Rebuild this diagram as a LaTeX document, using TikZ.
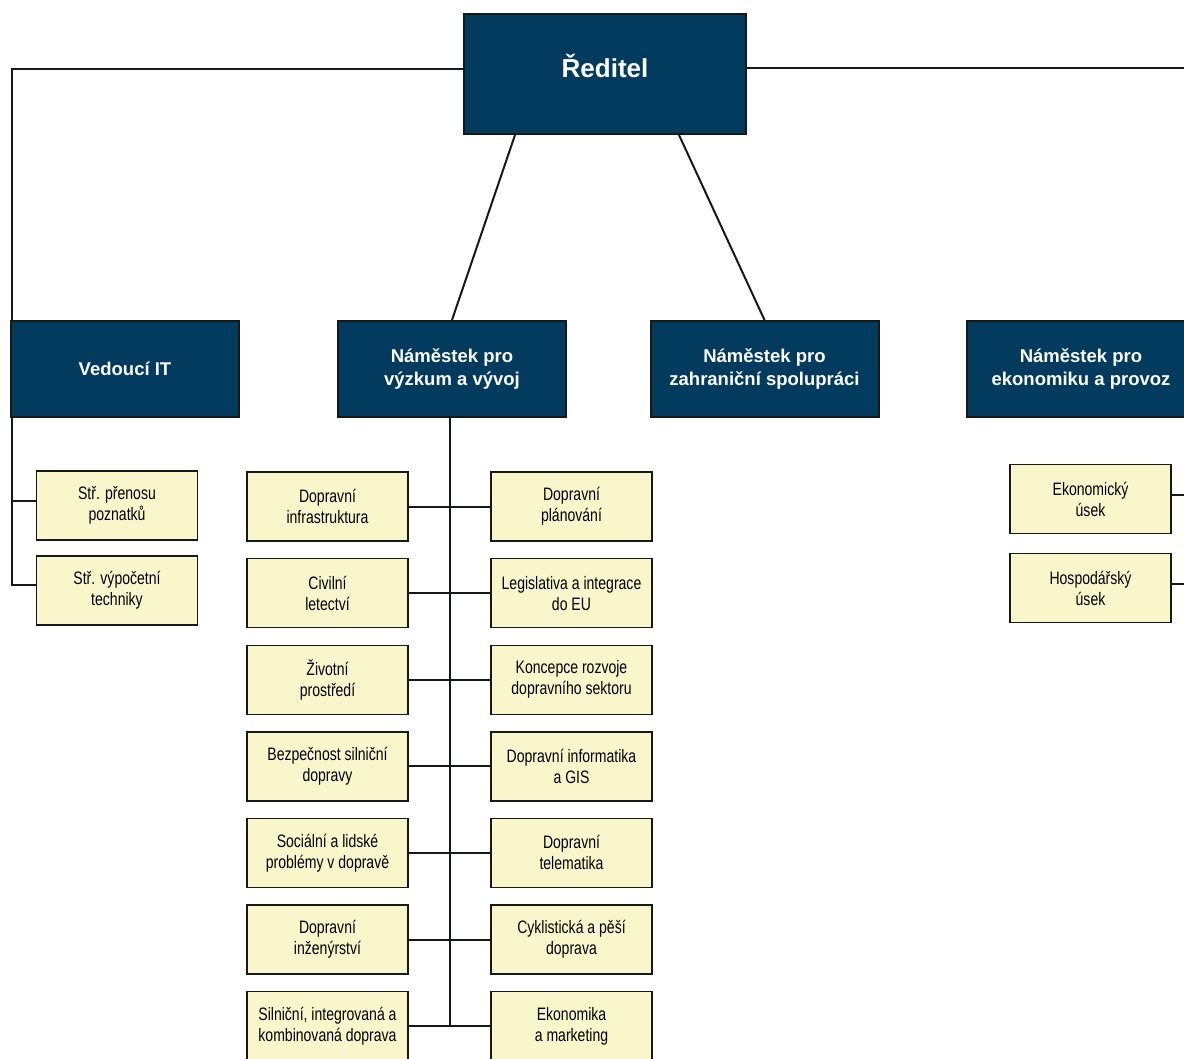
\documentclass[tikz,border=0pt]{standalone}
\usepackage{fontspec}
\setmainfont{Liberation Sans}
\newfontfamily\narrowsans[FakeStretch=0.78]{Liberation Sans}
\usetikzlibrary{positioning}
\definecolor{headblue}{RGB}{2,59,94}
\definecolor{unitfill}{RGB}{250,246,204}
\definecolor{edge}{RGB}{22,26,22}

\begin{document}
\begin{tikzpicture}[x=1pt, y=-1pt, node distance=16.2pt and 81.6pt,
    head/.style={draw=edge, line width=2pt, fill=headblue, text=white,
        font=\fontsize{18.5}{23}\selectfont\bfseries, align=center,
        minimum width=228pt, minimum height=96pt, inner sep=0pt},
    unit/.style={draw=edge, line width=1.4pt, fill=unitfill,
        font=\narrowsans\fontsize{18}{21}\selectfont, align=center,
        minimum width=161pt, minimum height=69pt, inner sep=0pt},
    link/.style={draw=edge, line width=2pt}]
    \useasboundingbox (0,0) rectangle (1184,1059);
    \clip (0,0) rectangle (1184,1059);
    \fill[white] (0,0) rectangle (1184,1059);

    \node[head, minimum width=282pt, minimum height=120pt, text height=18pt, text depth=10pt,
        font=\fontsize{26}{30}\selectfont\bfseries] (reditel) at (605,74) {Ředitel};

    \node[head] (vedouci) at (125,369) {Vedoucí IT};
    \node[head] (vyzkum) at (452,369) {Náměstek pro\\výzkum a vývoj};
    \node[head] (zahranici) at (764.5,369) {Náměstek pro\\zahraniční spolupráci};
    \node[head] (ekonomika) at (1081,369) {Náměstek pro\\ekonomiku a provoz};

    % IT
    \node[unit] (prenos) at (117,505.5) {Stř. přenosu\\poznatků};
    \node[unit, below=14.6pt of prenos] (vypocet) {Stř. výpočetní\\techniky};

    % vyzkum a vyvoj
    \node[unit] (infra) at (327.5,506.5) {Dopravní\\infrastruktura};
    \node[unit, right=of infra] (planovani) {Dopravní\\plánování};
    \node[unit, below=of infra] (letectvi) {Civilní\\letectví};
    \node[unit, right=of letectvi] (legislativa) {Legislativa a integrace\\do EU};
    \node[unit, below=of letectvi] (prostredi) {Životní\\prostředí};
    \node[unit, right=of prostredi] (koncepce) {Koncepce rozvoje\\dopravního sektoru};
    \node[unit, below=of prostredi] (bezpecnost) {Bezpečnost silniční\\dopravy};
    \node[unit, right=of bezpecnost] (informatika) {Dopravní informatika\\a GIS};
    \node[unit, below=of bezpecnost] (socialni) {Sociální a lidské\\problémy v dopravě};
    \node[unit, right=of socialni] (telematika) {Dopravní\\telematika};
    \node[unit, below=of socialni] (inzenyrstvi) {Dopravní\\inženýrství};
    \node[unit, right=of inzenyrstvi] (cyklo) {Cyklistická a pěší\\doprava};
    \node[unit, below=of inzenyrstvi] (kombinovana) {Silniční, integrovaná a\\kombinovaná doprava};
    \node[unit, right=of kombinovana] (marketing) {Ekonomika\\a marketing};

    % ekonomika a provoz
    \node[unit] (ekousek) at (1090.5,499) {Ekonomický\\úsek};
    \node[unit, below=18.6pt of ekousek] (hospusek) {Hospodářský\\úsek};

    \draw[link] ([yshift=5pt]reditel.west) -| ([xshift=1.5pt]vedouci.north west);
    \draw[link] ([yshift=6pt]reditel.east) -| (ekonomika.north east);
    \draw[link] ([xshift=-90pt]reditel.south) -- (vyzkum.north);
    \draw[link] ([xshift=74pt]reditel.south) -- (zahranici.north);

    \draw[link] ([xshift=1.5pt]vedouci.south west) |- ([yshift=5pt]prenos.west);
    \draw[link] ([xshift=1.5pt]vedouci.south west) |- ([yshift=6pt]vypocet.west);

    \draw[link] ([xshift=-2pt]vyzkum.south) -- ([xshift=-2pt]vyzkum.south |- kombinovana.east);
    \foreach \l/\r in {infra/planovani, letectvi/legislativa, prostredi/koncepce,
        bezpecnost/informatika, socialni/telematika, inzenyrstvi/cyklo, kombinovana/marketing}
        \draw[link] (\l.east) -- (\r.west);

    \draw[link] (ekonomika.south east) |- ([yshift=4pt]ekousek.east);
    \draw[link] (ekonomika.south east) |- ([yshift=4pt]hospusek.east);
\end{tikzpicture}
\end{document}
